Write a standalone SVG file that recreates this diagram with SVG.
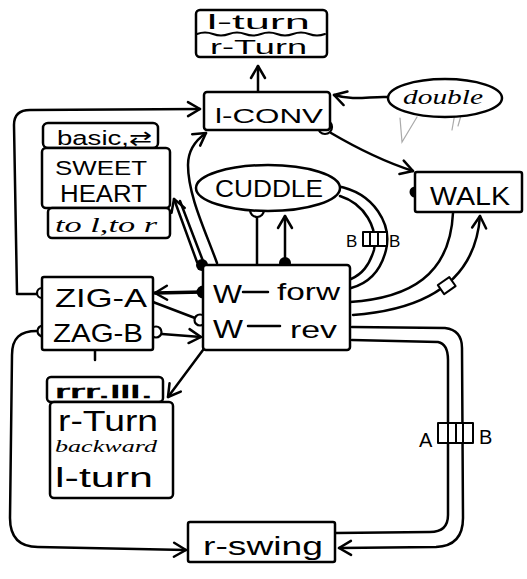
<svg xmlns="http://www.w3.org/2000/svg" width="527" height="579" viewBox="0 0 527 579">
<defs>
<marker id="ah" markerUnits="userSpaceOnUse" markerWidth="18" markerHeight="18" viewBox="0 0 18 18" refX="15" refY="9" orient="auto">
<path d="M3,2 L15,9 L3,16" fill="none" stroke="#000" stroke-width="2.5" stroke-linecap="round" stroke-linejoin="round"/>
</marker>
</defs>
<style>
.b{fill:#fff;stroke:#000;stroke-width:2.5;stroke-linejoin:round}
.l{fill:none;stroke:#000;stroke-width:2.5;stroke-linecap:round;stroke-linejoin:round}
.a{marker-end:url(#ah)}
.t{font-family:"Liberation Sans","DejaVu Sans",sans-serif;fill:#000}
.c{font-family:"Liberation Serif","DejaVu Serif",serif;font-style:italic;fill:#000}
.d{fill:#000}
.o{fill:#fff;stroke:#000;stroke-width:2.2}
.f{fill:none;stroke:#aaa;stroke-width:1.2;stroke-linecap:round}
</style>
<rect width="527" height="579" fill="#fff"/>

<g id="connectors">
  <path class="l a" d="M258,92 L258,66"/>
  <path class="l a" d="M388,97 C370,96 355,101 334,95"/>
  <path class="l a" d="M331,133 C360,150 385,162 413,171"/>
  <path class="l a" d="M37,294 L17,294 L14,125 Q14,110 30,110 L200,109"/>
  <path class="l a" d="M37,331 C20,331 12,338 12,355 L10,518 Q10,547 38,547 L186,550"/>
  <path class="l a" d="M162,334 L201,337"/>
  <path class="l a" d="M203,292 L155,293" style="stroke-width:3.5"/>
  <path class="l" d="M153,302 L195,318"/>
  <path class="l a" d="M217,263 C205,230 188,195 188,165 C188,150 196,140 206,133"/>
  <path class="l a" d="M197,262 L174,199"/>
  <path class="l" d="M203,261 L180,201"/>
  <path class="l a" d="M257,217 L257,282"/>
  <path class="l a" d="M285,263 L285,216"/>
  <path class="l a" d="M260,296 L260,315"/>
  <path class="l" d="M337,186 C375,193 392,225 386,250 C381,270 370,283 351,288"/>
  <path class="l" d="M340,196 C365,204 378,228 374,250 C369,266 362,274 351,279"/>
  <path class="l" d="M350,302 C410,298 450,275 453,213"/>
  <path class="l a" d="M353,315 C420,310 475,285 480,216"/>
  <path class="l a" d="M352,327 L445,328 Q462,330 462,348 L463,518 Q463,546 436,547 L339,548"/>
  <path class="l" d="M352,340 L438,342 Q448,344 448,360 L448,515 Q448,532 430,532 L336,533"/>
  <path class="l a" d="M203,350 L168,397"/>
  <path class="l" d="M95,351 L95,360"/>
  <rect x="363" y="232" width="24" height="14" class="b" style="stroke-width:2"/>
  <path class="l" d="M370,232 L370,246 M378,232 L378,246" style="stroke-width:2"/>
  <text class="t" x="346" y="247" font-size="17">B</text>
  <text class="t" x="389" y="247" font-size="17">B</text>
  <rect x="440" y="280" width="14" height="11" class="b" style="stroke-width:2" transform="rotate(-35 447 286)"/>
  <rect x="438" y="423" width="35" height="20" class="b" style="stroke-width:2"/>
  <path class="l" d="M448,423 L448,443 M456,423 L456,443 M463,423 L463,443" style="stroke-width:2"/>
  <text class="t" x="419" y="447" font-size="20">A</text>
  <text class="t" x="479" y="444" font-size="20">B</text>
  <circle cx="325" cy="127" r="7" class="o"/>
  <circle cx="415" cy="192" r="5.5" class="d"/>
  <circle cx="42" cy="293" r="5" class="o"/>
  <circle cx="43" cy="331" r="5.5" class="o"/>
  <circle cx="156" cy="332" r="5.5" class="o"/>
  <circle cx="202" cy="265" r="6" class="d"/>
  <circle cx="203" cy="292" r="6.5" class="d"/>
  <circle cx="285" cy="263" r="6" class="d"/>
  <circle cx="200" cy="320" r="5.5" class="o"/>
  <circle cx="310" cy="308" r="4" class="d"/>
  <circle cx="257" cy="210" r="7" class="o"/>
  <path class="l" d="M251,210 L263,210" style="stroke-width:1.8"/>
  <path class="f" d="M400,118 L402,142 L417,117"/>
  <path class="f" d="M455,113 L452,130 M462,112 L458,126"/>
</g>

<g id="turns-top">
  <rect x="196" y="10" width="131" height="47" rx="4" class="b"/>
  <path class="l" d="M197,34 q8,-3 16,0 t16,0 t16,0 t16,0 t16,0 t16,0 t16,0 t16,0" style="stroke-width:2"/>
  <text class="t" x="207" y="29" font-size="20" textLength="103" lengthAdjust="spacingAndGlyphs">l-turn</text>
  <text class="t" x="210" y="54" font-size="20" textLength="97" lengthAdjust="spacingAndGlyphs">r-Turn</text>
</g>

<g id="l-conv">
  <rect x="204" y="92" width="126" height="38" rx="3" class="b"/>
  <text class="t" x="215" y="123" font-size="21" textLength="108" lengthAdjust="spacingAndGlyphs">l-CONV</text>
</g>

<g id="double">
  <ellipse cx="445" cy="98" rx="57" ry="19" class="b"/>
  <text class="c" x="403" y="104" font-size="22" textLength="80" lengthAdjust="spacingAndGlyphs">double</text>
</g>

<g id="basic">
  <rect x="43" y="123" width="115" height="25" rx="5" class="b"/>
  <text class="t" x="57" y="145" font-size="20" textLength="95" lengthAdjust="spacingAndGlyphs">basic,⇄</text>
</g>

<g id="sweetheart">
  <rect x="42" y="148" width="128" height="60" rx="4" class="b"/>
  <text class="t" x="55" y="175" font-size="21" textLength="92" lengthAdjust="spacingAndGlyphs">SWEET</text>
  <text class="t" x="60" y="202" font-size="23" textLength="87" lengthAdjust="spacingAndGlyphs">HEART</text>
</g>

<g id="tol-tor">
  <rect x="48" y="208" width="122" height="30" rx="4" class="b"/>
  <text class="c" x="55" y="232" font-size="20" textLength="102" lengthAdjust="spacingAndGlyphs">to l,to r</text>
</g>

<g id="cuddle">
  <ellipse cx="268" cy="188" rx="72" ry="23" class="b"/>
  <text class="t" x="215" y="197" font-size="23" textLength="108" lengthAdjust="spacingAndGlyphs">CUDDLE</text>
</g>

<g id="walk">
  <rect x="415" y="172" width="107" height="40" rx="2" class="b"/>
  <text class="t" x="430" y="205" font-size="26" textLength="80" lengthAdjust="spacingAndGlyphs">WALK</text>
</g>

<g id="w-forw-rev">
  <rect x="203" y="265" width="147" height="85" rx="3" class="b"/>
  <text class="t" x="213" y="303" font-size="26" textLength="29" lengthAdjust="spacingAndGlyphs">W</text>
  <path class="l" d="M243,292 L268,292"/>
  <text class="t" x="277" y="300" font-size="24" textLength="63" lengthAdjust="spacingAndGlyphs">forw</text>
  <text class="t" x="213" y="338" font-size="26" textLength="30" lengthAdjust="spacingAndGlyphs">W</text>
  <path class="l" d="M248,326 L280,326"/>
  <text class="t" x="290" y="338" font-size="24" textLength="47" lengthAdjust="spacingAndGlyphs">rev</text>
</g>

<g id="zigzag">
  <rect x="42" y="277" width="111" height="73" rx="2" class="b"/>
  <text class="t" x="55" y="307" font-size="26" textLength="92" lengthAdjust="spacingAndGlyphs">ZIG-A</text>
  <text class="t" x="53" y="342" font-size="25" textLength="90" lengthAdjust="spacingAndGlyphs">ZAG-B</text>
</g>

<g id="rrr-lll">
  <rect x="47" y="377" width="116" height="25" rx="4" class="b"/>
  <text class="t" x="55" y="398" font-size="18" textLength="98" lengthAdjust="spacingAndGlyphs" stroke="#000" stroke-width="0.6">rrr.lll.</text>
  <rect x="50" y="402" width="123" height="96" rx="4" class="b"/>
  <text class="t" x="58" y="431" font-size="30" textLength="100" lengthAdjust="spacingAndGlyphs">r-Turn</text>
  <text class="c" x="55" y="452" font-size="17" textLength="102" lengthAdjust="spacingAndGlyphs">backward</text>
  <text class="t" x="55" y="487" font-size="27" textLength="98" lengthAdjust="spacingAndGlyphs">l-turn</text>
</g>

<g id="r-swing">
  <rect x="188" y="522" width="147" height="40" rx="2" class="b"/>
  <text class="t" x="203" y="555" font-size="26" textLength="120" lengthAdjust="spacingAndGlyphs">r-swing</text>
</g>
</svg>
